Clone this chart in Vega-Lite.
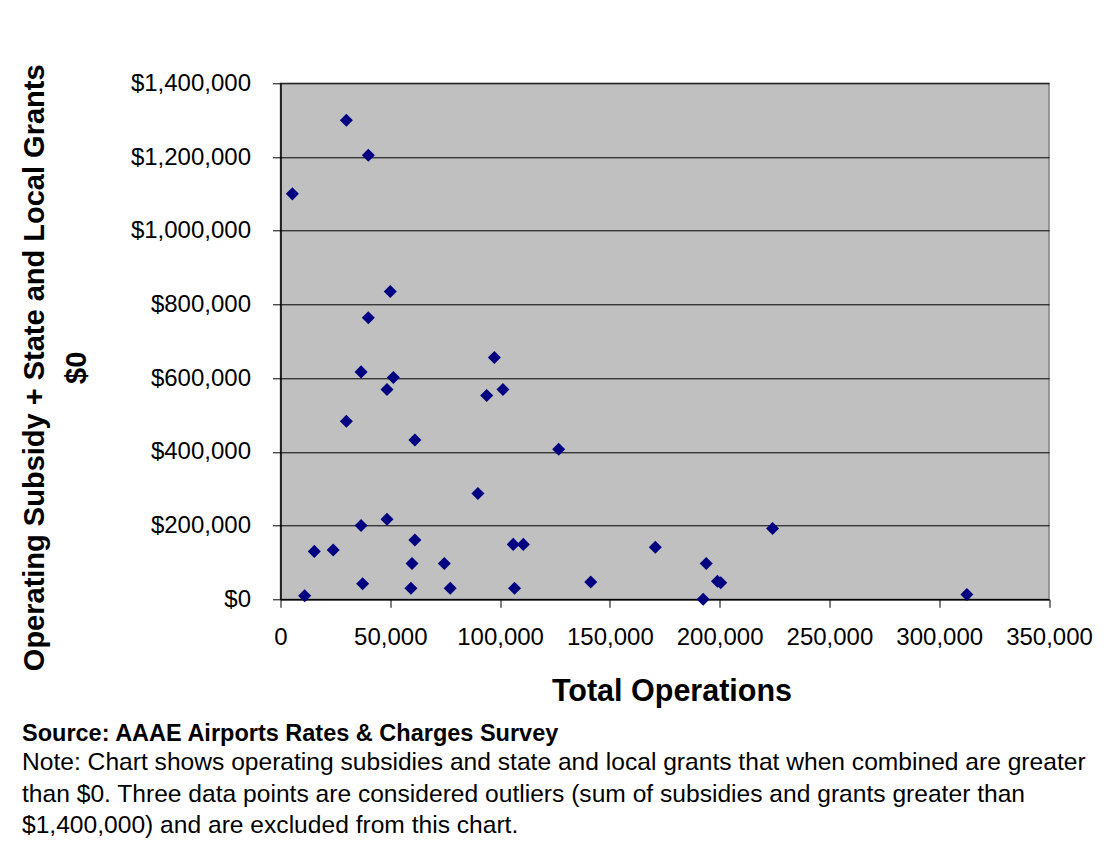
{
  "$schema": "https://vega.github.io/schema/vega-lite/v6.json",
  "autosize": {"type": "none"},
  "width": 768.5,
  "height": 516,
  "padding": {"left": 280.5, "top": 83.3, "right": 58, "bottom": 253.7},
  "background": "#ffffff",
  "config": {
    "font": "Liberation Sans",
    "view": {"fill": "#C0C0C0", "stroke": "#808080", "strokeWidth": 1.5}
  },
  "title": {
    "text": "Source: AAAE Airports Rates & Charges Survey",
    "subtitle": [
      "Note: Chart shows operating subsidies and state and local grants that when combined are greater",
      "than $0.  Three data points are considered outliers (sum of subsidies and grants greater than",
      "$1,400,000) and are excluded from this chart."
    ],
    "orient": "bottom",
    "anchor": "start",
    "frame": "group",
    "dx": -258.5,
    "offset": 15,
    "font": "Liberation Sans",
    "fontSize": 23.5,
    "fontWeight": "bold",
    "color": "#000000",
    "subtitleFont": "Liberation Sans",
    "subtitleFontSize": 24.6,
    "subtitleColor": "#000000",
    "subtitleLineHeight": 31.5,
    "subtitlePadding": 6
  },
  "data": {
    "values": [
      {"ops": 5400, "amount": 1100000},
      {"ops": 30000, "amount": 1300000},
      {"ops": 40000, "amount": 1205000},
      {"ops": 50000, "amount": 835000},
      {"ops": 40000, "amount": 764000},
      {"ops": 97400, "amount": 656000},
      {"ops": 36700, "amount": 617000},
      {"ops": 51400, "amount": 602000},
      {"ops": 48500, "amount": 569000},
      {"ops": 93900, "amount": 553000},
      {"ops": 101300, "amount": 569000},
      {"ops": 30000, "amount": 483000},
      {"ops": 61200, "amount": 432000},
      {"ops": 126700, "amount": 407000},
      {"ops": 89900, "amount": 287000},
      {"ops": 36700, "amount": 200000},
      {"ops": 48500, "amount": 217000},
      {"ops": 61200, "amount": 161000},
      {"ops": 15400, "amount": 130000},
      {"ops": 24000, "amount": 134000},
      {"ops": 106000, "amount": 149000},
      {"ops": 110600, "amount": 149000},
      {"ops": 59900, "amount": 97000},
      {"ops": 74600, "amount": 97000},
      {"ops": 37400, "amount": 42000},
      {"ops": 59400, "amount": 30000},
      {"ops": 77300, "amount": 30000},
      {"ops": 106600, "amount": 30000},
      {"ops": 11000, "amount": 9500},
      {"ops": 141300, "amount": 47000},
      {"ops": 170700, "amount": 141000},
      {"ops": 193900, "amount": 97000},
      {"ops": 199000, "amount": 49000},
      {"ops": 200500, "amount": 45000},
      {"ops": 192500, "amount": 0},
      {"ops": 224100, "amount": 192000},
      {"ops": 312600, "amount": 13000}
    ]
  },
  "mark": {"type": "point", "shape": "diamond", "filled": true, "color": "#000080", "opacity": 1, "size": 170, "clip": false},
  "encoding": {
    "x": {
      "field": "ops",
      "type": "quantitative",
      "scale": {"domain": [0, 350000], "nice": false, "zero": true},
      "axis": {
        "title": "Total Operations",
        "values": [0, 50000, 100000, 150000, 200000, 250000, 300000, 350000],
        "format": ",d",
        "grid": false,
        "domainColor": "#000000",
        "domainWidth": 1.5,
        "tickColor": "#000000",
        "tickSize": 8,
        "labelFont": "Liberation Sans",
        "labelFontSize": 24,
        "labelColor": "#000000",
        "labelPadding": 18,
        "labelFlush": false,
        "labelOverlap": false,
        "titleFont": "Liberation Sans",
        "titleFontSize": 30.5,
        "titleFontWeight": "bold",
        "titleColor": "#000000",
        "titleBaseline": "alphabetic",
        "titleAnchor": "middle",
        "titleX": 391,
        "titleY": 101
      }
    },
    "y": {
      "field": "amount",
      "type": "quantitative",
      "scale": {"domain": [0, 1400000], "nice": false, "zero": true},
      "axis": {
        "title": ["Operating Subsidy + State and Local Grants", "$0"],
        "values": [0, 200000, 400000, 600000, 800000, 1000000, 1200000, 1400000],
        "format": "$,.0f",
        "grid": true,
        "gridColor": "#000000",
        "gridWidth": 1,
        "domainColor": "#000000",
        "domainWidth": 1.5,
        "tickColor": "#000000",
        "tickSize": 8,
        "labelFont": "Liberation Sans",
        "labelFontSize": 24,
        "labelColor": "#000000",
        "labelPadding": 22,
        "labelOverlap": false,
        "titleFont": "Liberation Sans",
        "titleFontSize": 29,
        "titleFontWeight": "bold",
        "titleColor": "#000000",
        "titleAngle": -90,
        "titleAlign": "center",
        "titleBaseline": "alphabetic",
        "titleLineHeight": 42,
        "titleX": -237.5,
        "titleY": 284
      }
    }
  }
}
